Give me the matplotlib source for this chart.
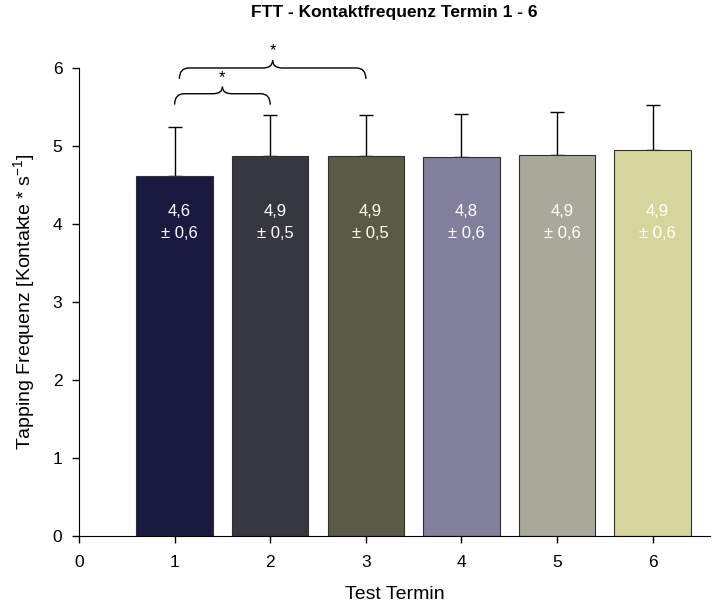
import matplotlib
matplotlib.use('Agg')
import matplotlib.pyplot as plt
from matplotlib.path import Path
from matplotlib.patches import PathPatch

plt.rcParams['font.family'] = ['Liberation Sans', 'DejaVu Sans']
plt.rcParams['mathtext.default'] = 'regular'

termine = [1, 2, 3, 4, 5, 6]
mittelwerte = [4.61, 4.87, 4.87, 4.86, 4.88, 4.95]
sd = [0.63, 0.53, 0.53, 0.55, 0.55, 0.58]
label_mw = ['4,6', '4,9', '4,9', '4,8', '4,9', '4,9']
label_sd = ['0,6', '0,5', '0,5', '0,6', '0,6', '0,6']
farben = ['#1a1a40', '#373741', '#5b5b45', '#80809c', '#a8a99a', '#d6d69c']

# signifikante Paare (von, bis)
paare = [(1, 2), (1, 3)]

fig = plt.figure(figsize=(7.18, 6.07), dpi=100)
ax = fig.add_axes([0.110, 0.117, 0.879, 0.771])

ax.bar(termine, mittelwerte, width=0.8, color=farben, edgecolor='#303030',
       linewidth=0.8, zorder=2)
# Fehlerbalken nur nach oben; untere Kappe liegt hinter dem Balken
ax.errorbar(termine, mittelwerte, yerr=[[0] * len(sd), sd], fmt='none',
            ecolor='black', elinewidth=1.0, capsize=5, capthick=1.0, zorder=1)

for x, m, s in zip(termine, label_mw, label_sd):
    ax.text(x + 0.05, 4.02, m + '\n± ' + s, ha='center', va='center',
            color='white', fontsize=12, linespacing=1.55, zorder=4)


def klammer(ax, x0, x1, y_ende, y_linie, y_spitze, r=0.1):
    # geschweifte Klammer von x0 bis x1 mit Spitze in der Mitte
    mitte = (x0 + x1) / 2
    links = Path([(x0, y_ende), (x0, y_linie), (x0 + r, y_linie),
                  (mitte - r, y_linie), (mitte, y_linie), (mitte, y_spitze)],
                 [Path.MOVETO, Path.CURVE3, Path.CURVE3,
                  Path.LINETO, Path.CURVE3, Path.CURVE3])
    rechts = Path([(mitte, y_spitze), (mitte, y_linie), (mitte + r, y_linie),
                   (x1 - r, y_linie), (x1, y_linie), (x1, y_ende)],
                  [Path.MOVETO, Path.CURVE3, Path.CURVE3,
                   Path.LINETO, Path.CURVE3, Path.CURVE3])
    for p in (links, rechts):
        ax.add_patch(PathPatch(p, facecolor='none', edgecolor='black',
                               linewidth=1.0, clip_on=False, zorder=5))
    ax.text(mitte, y_spitze + 0.02, '*', ha='center', va='bottom',
            fontsize=12, clip_on=False)


klammer(ax, paare[0][0], paare[0][1], 5.53, 5.67, 5.76)
klammer(ax, paare[1][0] + 0.05, paare[1][1], 5.86, 6.0, 6.1)

ax.set_xlim(0, 6.6)
ax.set_ylim(0, 6)
ax.set_xticks(range(0, 7))
ax.set_yticks(range(0, 7))
ax.spines['top'].set_visible(False)
ax.spines['right'].set_visible(False)
ax.tick_params(direction='out', length=5, width=1, labelsize=12.5)
ax.tick_params(axis='x', pad=9)
ax.tick_params(axis='y', pad=7)
ax.set_xlabel('Test Termin', fontsize=14, labelpad=11)
ax.set_ylabel('Tapping Frequenz [Kontakte * s$^{-1}$]', fontsize=14, labelpad=11)
ax.set_title('FTT - Kontaktfrequenz Termin 1 - 6', fontsize=12.5,
             fontweight='bold', pad=37)

fig.savefig('out.png', dpi=100)
